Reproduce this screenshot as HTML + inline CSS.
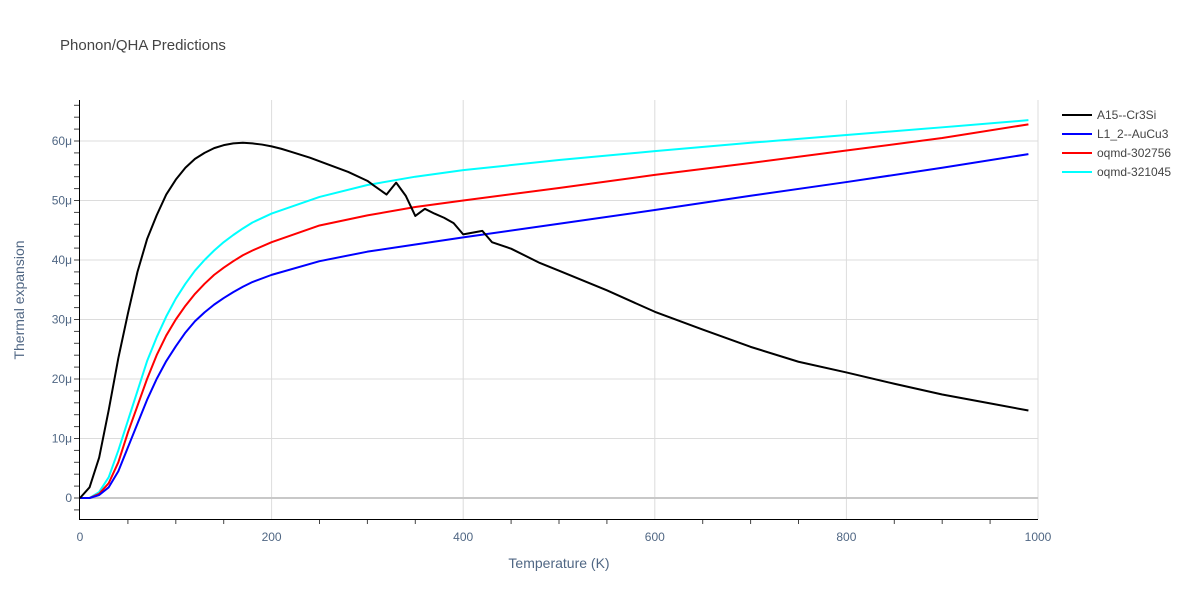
<!DOCTYPE html>
<html><head><meta charset="utf-8"><style>
body{margin:0;background:#fff;}
svg{font-family:"Liberation Sans",sans-serif;}
</style></head><body>
<svg id="chart" width="1200" height="600" xmlns="http://www.w3.org/2000/svg">
<text x="60" y="50" font-size="15" fill="#444">Phonon/QHA Predictions</text>
<g id="grid"></g><g id="axes"></g><g id="series"></g><g id="legend"></g>
<text x="559" y="568" font-size="14" fill="#506784" text-anchor="middle">Temperature (K)</text>
<text x="24" y="300" font-size="14" fill="#506784" text-anchor="middle" transform="rotate(-90 24 300)">Thermal expansion</text>
</svg>
<script>
const seriesNames=["A15--Cr3Si","L1_2--AuCu3","oqmd-302756","oqmd-321045"];
const seriesColors=["#000000","#0000ff","#ff0000","#00ffff"];
const blackT=[0,10,20,30,40,50,60,70,80,90,100,110,120,130,140,150,160,170,180,190,200,210,220,230,240,260,280,300,306,320,330,340,350,360,370,380,390,400,420,430,450,480,500,550,600,650,700,750,800,850,900,950,990];
const blackV=[0,1.8,6.8,14.8,23.5,31,38,43.5,47.5,51,53.5,55.5,57,58,58.8,59.3,59.6,59.7,59.6,59.4,59.1,58.7,58.2,57.7,57.2,56,54.8,53.3,52.6,51,53,50.8,47.4,48.6,47.8,47.1,46.2,44.3,44.9,43,41.9,39.5,38.2,34.9,31.3,28.3,25.4,22.9,21.1,19.2,17.4,15.9,14.7];
const colT=[0,10,20,30,40,50,60,70,80,90,100,110,120,130,140,150,160,170,180,200,250,300,350,400,500,600,700,800,900,990];
const blueV=[0,0,0.5,1.8,4.5,8.5,12.5,16.5,20,23,25.5,27.8,29.7,31.2,32.5,33.6,34.6,35.5,36.3,37.5,39.8,41.4,42.6,43.8,46.1,48.4,50.8,53.1,55.5,57.8];
const redV=[0,0,0.7,2.5,6,11,15.5,20,24,27.3,30,32.3,34.3,36,37.5,38.7,39.8,40.8,41.6,43,45.8,47.5,48.9,50,52.1,54.3,56.3,58.4,60.5,62.8];
const cyanV=[0,0,1,3.5,8,13,18,23,27,30.5,33.5,36,38.2,40,41.6,43,44.2,45.3,46.3,47.8,50.6,52.6,54,55.1,56.8,58.3,59.7,61,62.3,63.5];
const xTicks=[0,200,400,600,800,1000];
const yTicks=[0,10,20,30,40,50,60];
const NS="http://www.w3.org/2000/svg";
const X=t=>80+t*0.958;
const Y=v=>498-v*5.95;
function mk(tag,attrs,parent){const e=document.createElementNS(NS,tag);for(const k in attrs)e.setAttribute(k,attrs[k]);parent.appendChild(e);return e;}
const grid=document.getElementById('grid'),axes=document.getElementById('axes'),ser=document.getElementById('series'),leg=document.getElementById('legend');
xTicks.forEach(t=>{if(t>0){const l=mk('line',{x1:X(t),x2:X(t),y1:100,y2:519,stroke:'#dcdcdc','stroke-width':1},grid);

}
const tx=mk('text',{x:X(t),y:541,'font-size':12,fill:'#506784','text-anchor':'middle'},axes);tx.textContent=t;

});
for(let t=50;t<1000;t+=50){if(t%200)mk('line',{x1:X(t),x2:X(t),y1:519,y2:524,stroke:'#444'},axes);}
yTicks.forEach(v=>{const l=mk('line',{x1:80,x2:1038,y1:Y(v),y2:Y(v),stroke:v===0?'#c8c8c8':'#dcdcdc','stroke-width':v===0?2:1},grid);


const tx=mk('text',{x:72,y:Y(v)+4,'font-size':12,fill:'#506784','text-anchor':'end'},axes);tx.textContent=v===0?'0':v+'μ';

});
for(let v=-2;v<=66;v+=2){mk('line',{x1:74,x2:79,y1:Y(v),y2:Y(v),stroke:'#444'},axes);}
const ya=mk('line',{x1:79.5,x2:79.5,y1:100,y2:519,stroke:'#000'},axes);


const xa=mk('line',{x1:79,x2:1038,y1:519.5,y2:519.5,stroke:'#000'},axes);


const allT=[blackT,colT,colT,colT],allV=[blackV,blueV,redV,cyanV];
[3,2,1,0].forEach(i=>{const p=mk('polyline',{points:allT[i].map((t,j)=>X(t)+','+Y(allV[i][j])).join(' '),fill:'none',stroke:seriesColors[i],'stroke-width':2,'stroke-linejoin':'round'},ser);

});
seriesNames.forEach((n,i)=>{const g=mk('g',{},leg);


const y=115+i*19;mk('line',{x1:1062,x2:1092,y1:y,y2:y,stroke:seriesColors[i],'stroke-width':2},g);
const t=mk('text',{x:1097,y:y+4,'font-size':12,fill:'#444'},g);t.textContent=n;});
</script>
</body></html>
